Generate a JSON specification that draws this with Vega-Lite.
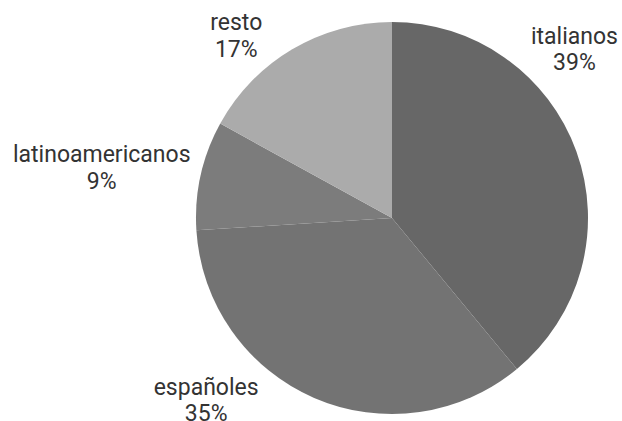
{
  "$schema": "https://vega.github.io/schema/vega-lite/v6.json",
  "width": 460,
  "height": 406,
  "autosize": {"type": "none"},
  "padding": {"left": 162, "top": 15, "right": 0, "bottom": 0},
  "background": "white",
  "config": {"view": {"stroke": null}},
  "data": {
    "values": [
      {"cat": "italianos", "value": 39, "order": 1},
      {"cat": "españoles", "value": 35, "order": 2},
      {"cat": "latinoamericanos", "value": 9, "order": 3},
      {"cat": "resto", "value": 17, "order": 4}
    ]
  },
  "transform": [
    {"calculate": "datum.cat + '\\n' + datum.value + '%'", "as": "label"}
  ],
  "encoding": {
    "theta": {"field": "value", "type": "quantitative", "stack": true},
    "order": {"field": "order", "type": "quantitative"}
  },
  "layer": [
    {
      "mark": {"type": "arc", "outerRadius": 196, "stroke": null},
      "encoding": {
        "color": {
          "field": "cat",
          "type": "nominal",
          "scale": {
            "domain": ["italianos", "españoles", "latinoamericanos", "resto"],
            "range": ["#676767", "#737373", "#7c7c7c", "#ababab"]
          },
          "legend": null
        }
      }
    },
    {
      "mark": {"type": "text", "radius": 196, "dx": -2, "dy": -108, "font": "Roboto", "fontSize": 23, "color": "#333333", "align": "center", "baseline": "alphabetic", "lineBreak": "\n", "lineHeight": 26.5},
      "encoding": {
        "detail": {"field": "cat", "type": "nominal"},
        "text": {"condition": {"test": "datum.cat === 'italianos'", "field": "label"}, "value": ""}
      }
    },
    {
      "mark": {"type": "text", "radius": 196, "dx": -108, "dy": -3, "font": "Roboto", "fontSize": 23, "color": "#333333", "align": "center", "baseline": "alphabetic", "lineBreak": "\n", "lineHeight": 26.5},
      "encoding": {
        "detail": {"field": "cat", "type": "nominal"},
        "text": {"condition": {"test": "datum.cat === 'españoles'", "field": "label"}, "value": ""}
      }
    },
    {
      "mark": {"type": "text", "radius": 196, "dx": -99, "dy": -13, "font": "Roboto", "fontSize": 23, "color": "#333333", "align": "center", "baseline": "alphabetic", "lineBreak": "\n", "lineHeight": 26.5},
      "encoding": {
        "detail": {"field": "cat", "type": "nominal"},
        "text": {"condition": {"test": "datum.cat === 'latinoamericanos'", "field": "label"}, "value": ""}
      }
    },
    {
      "mark": {"type": "text", "radius": 196, "dx": -56, "dy": -19, "font": "Roboto", "fontSize": 23, "color": "#333333", "align": "center", "baseline": "alphabetic", "lineBreak": "\n", "lineHeight": 26.5},
      "encoding": {
        "detail": {"field": "cat", "type": "nominal"},
        "text": {"condition": {"test": "datum.cat === 'resto'", "field": "label"}, "value": ""}
      }
    }
  ]
}
